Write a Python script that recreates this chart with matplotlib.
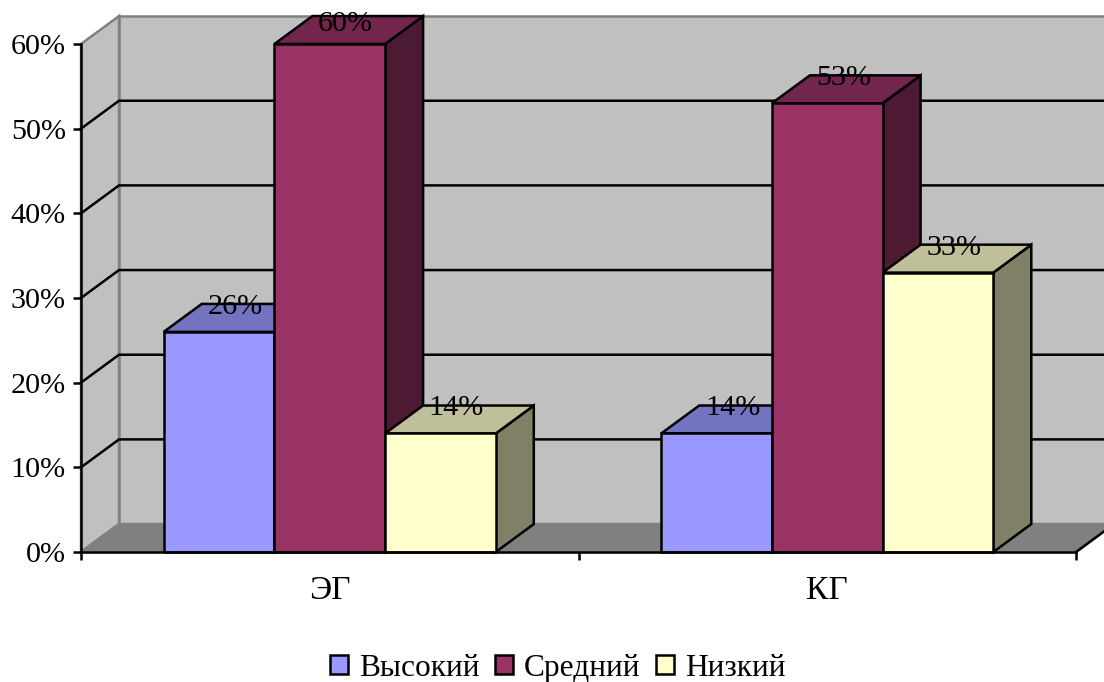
# -*- coding: utf-8 -*-
import matplotlib
matplotlib.use('Agg')
import matplotlib.pyplot as plt
from matplotlib.colors import to_rgb
from matplotlib.patches import Patch, Polygon

plt.rcParams['font.family'] = ['Liberation Serif', 'DejaVu Serif']

# data
groups = ['ЭГ', 'КГ']
series_names = ['Высокий', 'Средний', 'Низкий']
high = [26, 14]
medium = [60, 53]
low = [14, 33]
y_ticks = [0, 10, 20, 30, 40, 50, 60]

colors = ['#9999FF', '#993366', '#FFFFCC']

# fake 3d depth, in data units
depth_x = 0.0764
depth_y = 3.3
bar_w = 0.2225
FS = 21.7
LW = 1.8


def shade(color, k):
    return tuple(c * k for c in to_rgb(color))


def poly(ax, pts, fc, ec='black', lw=LW, z=1):
    ax.add_patch(Polygon(pts, closed=True, facecolor=fc, edgecolor=ec, linewidth=lw,
                         clip_on=False, zorder=z, joinstyle='miter'))


def draw_bar(ax, x0, val, color, z):
    x1 = x0 + bar_w
    # side, top, then front
    poly(ax, [(x1, 0), (x1 + depth_x, depth_y), (x1 + depth_x, val + depth_y), (x1, val)],
         shade(color, 0.5), z=z)
    poly(ax, [(x0, val), (x1, val), (x1 + depth_x, val + depth_y), (x0 + depth_x, val + depth_y)],
         shade(color, 0.75), z=z)
    poly(ax, [(x0, 0), (x1, 0), (x1, val), (x0, val)], color, z=z)


fig = plt.figure(figsize=(11.04, 6.82), dpi=100)
ax = fig.add_axes([81 / 1104, 1 - 552 / 682, 995 / 1104, 508 / 682])
ax.set_xlim(0, 2)
ax.set_ylim(0, 60)
ax.patch.set_visible(False)

# walls and floor
top = y_ticks[-1]
poly(ax, [(0, 0), (depth_x, depth_y), (depth_x, top + depth_y), (0, top)], '#C0C0C0', '#808080', z=1)
poly(ax, [(depth_x, depth_y), (2 + depth_x, depth_y), (2 + depth_x, top + depth_y), (depth_x, top + depth_y)],
     '#C0C0C0', '#808080', z=1)
poly(ax, [(0, 0), (2, 0), (2 + depth_x, depth_y), (depth_x, depth_y)], '#808080', '#808080', z=1)
ax.plot([2, 2 + depth_x], [0, depth_y], color='black', lw=LW, clip_on=False, zorder=2)

# grid lines on both walls
for t in y_ticks[1:-1]:
    ax.plot([0, depth_x, 2 + depth_x], [t, t + depth_y, t + depth_y], color='black', lw=LW,
            clip_on=False, zorder=2, solid_joinstyle='miter')

# bars, left to right
n = len(series_names)
values = [high, medium, low]
z = 3
for g in range(len(groups)):
    start = g + (1 - n * bar_w) / 2
    for s in range(n):
        draw_bar(ax, start + s * bar_w, values[s][g], colors[s], z)
        z += 1

# value labels, the one at the very top has to stay inside the chart
for g in range(len(groups)):
    start = g + (1 - n * bar_w) / 2
    for s in range(n):
        val = values[s][g]
        dy = 14.5 if val == top else 18
        ax.annotate(str(val) + '%', (start + (s + 0.5) * bar_w, val), xytext=(11.5, dy),
                    textcoords='offset points', ha='center', va='center', fontsize=FS,
                    color='black', zorder=50, annotation_clip=False)

# axes
for side in ['top', 'right']:
    ax.spines[side].set_visible(False)
for side in ['left', 'bottom']:
    ax.spines[side].set_linewidth(LW)
    ax.spines[side].set_zorder(40)

ax.set_yticks(y_ticks)
ax.set_yticklabels([str(t) + '%' for t in y_ticks], fontsize=FS)
ax.tick_params(axis='y', length=6, width=LW, pad=5)
ax.set_xticks([0, 1, 2])
ax.set_xticklabels([])
ax.tick_params(axis='x', which='major', length=6, width=LW)
ax.set_xticks([0.5, 1.5], minor=True)
ax.set_xticklabels(groups, minor=True, fontsize=24)
ax.tick_params(axis='x', which='minor', length=0, pad=17)

handles = [Patch(facecolor=c, edgecolor='black', linewidth=LW) for c in colors]
fig.legend(handles, series_names, ncol=3, loc='center', bbox_to_anchor=(558 / 1104, 1 - 668.5 / 682),
           frameon=False, fontsize=22.6, handlelength=0.56, handleheight=0.56,
           handletextpad=0.36, columnspacing=0.5, borderpad=0, borderaxespad=0)

fig.savefig('out.png', dpi=100)
